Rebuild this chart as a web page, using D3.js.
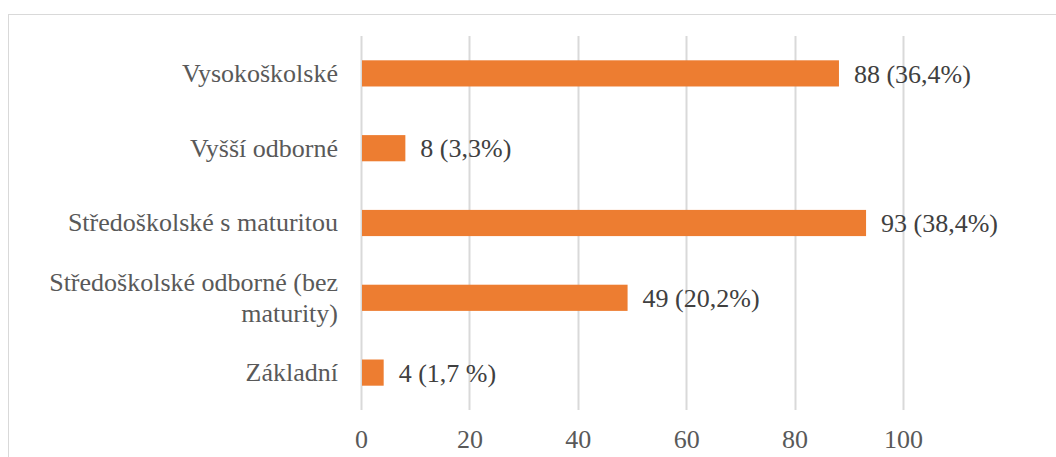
<!DOCTYPE html>
<html lang="cs">
<head>
    <meta charset="UTF-8">
    <title>Vzdělání</title>
    <script src="https://d3js.org/d3.v7.min.js"></script>
    <style>
        body { margin: 0; background: #fff; }
    </style>
</head>
<body>
    <div id="chart"></div>

    <script>
        // Data
        const categories = [
            "Vysokoškolské",
            "Vyšší odborné",
            "Středoškolské s maturitou",
            "Středoškolské odborné (bez maturity)",
            "Základní"
        ];
        const values = [88, 8, 93, 49, 4];
        const valueLabels = ["88 (36,4%)", "8 (3,3%)", "93 (38,4%)", "49 (20,2%)", "4 (1,7 %)"];
        const tickValues = [0, 20, 40, 60, 80, 100];

        // label line breaks as in the original
        const labelLines = {
            "Středoškolské odborné (bez maturity)": ["Středoškolské odborné (bez", "maturity)"]
        };

        const W = 1056, H = 457;
        const margin = {top: 36, right: 153, bottom: 47, left: 361};
        const fontSize = 26;
        const serif = "'Liberation Serif', 'DejaVu Serif', 'Noto Serif', serif";

        const svg = d3.select("#chart")
            .append("svg")
            .attr("width", W)
            .attr("height", H)
            .style("font-family", serif);

        // chart border
        svg.append("rect")
            .attr("x", 8.5)
            .attr("y", 14.5)
            .attr("width", W + 10)
            .attr("height", H + 10)
            .attr("fill", "none")
            .attr("stroke", "#d9d9d9")
            .attr("stroke-width", 1);

        const x = d3.scaleLinear()
            .domain([0, 100])
            .range([margin.left, W - margin.right]);

        const y = d3.scaleBand()
            .domain(categories)
            .range([margin.top, H - margin.bottom])
            .paddingInner(0.65)
            .paddingOuter(0.325);

        // gridlines
        svg.append("g")
            .selectAll("line")
            .data(tickValues)
            .enter()
            .append("line")
            .attr("x1", d => Math.round(x(d)) + 0.5)
            .attr("x2", d => Math.round(x(d)) + 0.5)
            .attr("y1", margin.top)
            .attr("y2", H - margin.bottom)
            .attr("stroke", "#d9d9d9")
            .attr("stroke-width", 2);

        // bars
        svg.selectAll(".bar")
            .data(values)
            .enter()
            .append("rect")
            .attr("class", "bar")
            .attr("x", x(0) + 1)
            .attr("y", (d, i) => y(categories[i]))
            .attr("width", d => x(d) - x(0))
            .attr("height", y.bandwidth())
            .attr("fill", "#ed7d31");

        // value labels
        svg.selectAll(".val")
            .data(values)
            .enter()
            .append("text")
            .attr("class", "val")
            .attr("x", d => x(d) + 16)
            .attr("y", (d, i) => y(categories[i]) + y.bandwidth() / 2)
            .attr("dy", "0.35em")
            .style("font-family", serif)
            .style("font-size", fontSize + "px")
            .attr("fill", "#404040")
            .text((d, i) => valueLabels[i]);

        // x axis (labels only)
        const xAxis = svg.append("g")
            .attr("transform", `translate(0,${H - margin.bottom})`)
            .call(d3.axisBottom(x).tickValues(tickValues).tickSize(0).tickPadding(20));
        xAxis.select(".domain").remove();
        xAxis.selectAll("text")
            .style("font-family", serif)
            .style("font-size", fontSize + "px")
            .attr("fill", "#595959");

        // y axis (category labels)
        const yAxis = svg.append("g")
            .attr("transform", `translate(${margin.left},0)`)
            .call(d3.axisLeft(y).tickSize(0).tickPadding(23));
        yAxis.select(".domain").remove();
        yAxis.selectAll("text")
            .style("font-family", serif)
            .style("font-size", fontSize + "px")
            .attr("fill", "#595959")
            .each(function(d) {
                const lines = labelLines[d];
                if (!lines) return;
                const t = d3.select(this).text(null);
                lines.forEach((s, i) => {
                    t.append("tspan")
                        .attr("x", -23)
                        .attr("dy", i === 0 ? "-0.28em" : "1.2em")
                        .text(s);
                });
            });
    </script>
</body>
</html>
